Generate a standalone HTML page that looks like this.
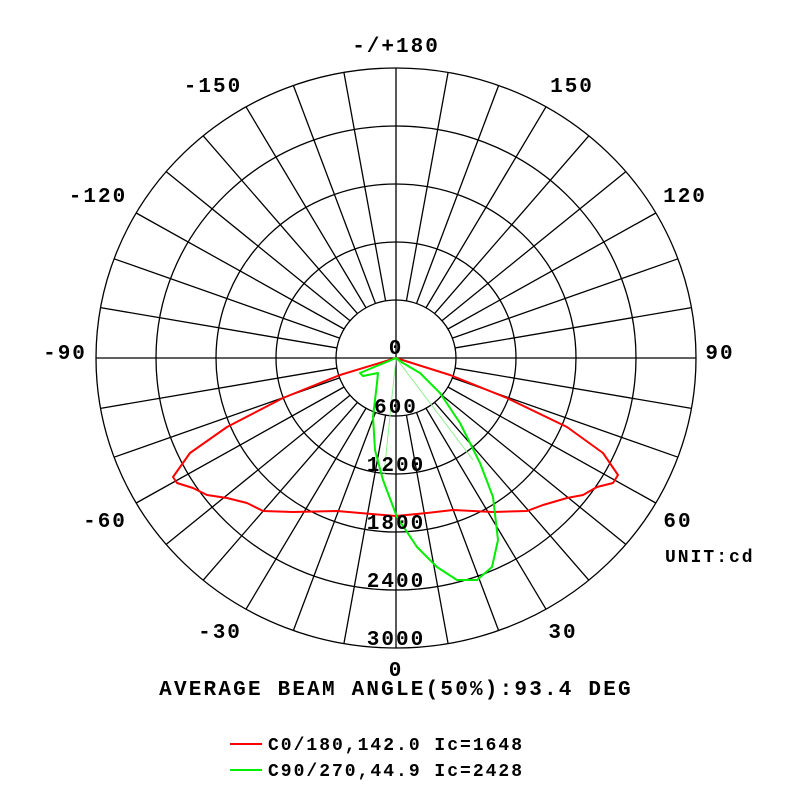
<!DOCTYPE html>
<html><head><style>body{margin:0;background:#fff}svg text{font-family:"Liberation Mono",monospace;font-weight:bold;fill:#000}</style></head><body>
<svg width="800" height="800" viewBox="0 0 800 800" xmlns="http://www.w3.org/2000/svg">
<rect width="800" height="800" fill="#fff"/>
<g fill="none" stroke="#000" stroke-width="1.3" transform="translate(396,358) scale(1,0.9667)">
<g vector-effect="non-scaling-stroke">
<ellipse cx="0" cy="0" rx="60" ry="60" vector-effect="non-scaling-stroke"/>
<ellipse cx="0" cy="0" rx="120" ry="120" vector-effect="non-scaling-stroke"/>
<ellipse cx="0" cy="0" rx="180" ry="180" vector-effect="non-scaling-stroke"/>
<ellipse cx="0" cy="0" rx="240" ry="240" vector-effect="non-scaling-stroke"/>
<ellipse cx="0" cy="0" rx="300" ry="300" vector-effect="non-scaling-stroke"/>
<line x1="-300" y1="0" x2="300" y2="0" vector-effect="non-scaling-stroke"/>
<line x1="0" y1="-300" x2="0" y2="300" vector-effect="non-scaling-stroke"/>
<line x1="0" y1="60" x2="0" y2="300" transform="rotate(10)" vector-effect="non-scaling-stroke"/>
<line x1="0" y1="60" x2="0" y2="300" transform="rotate(20)" vector-effect="non-scaling-stroke"/>
<line x1="0" y1="60" x2="0" y2="300" transform="rotate(30)" vector-effect="non-scaling-stroke"/>
<line x1="0" y1="60" x2="0" y2="300" transform="rotate(40)" vector-effect="non-scaling-stroke"/>
<line x1="0" y1="60" x2="0" y2="300" transform="rotate(50)" vector-effect="non-scaling-stroke"/>
<line x1="0" y1="60" x2="0" y2="300" transform="rotate(60)" vector-effect="non-scaling-stroke"/>
<line x1="0" y1="60" x2="0" y2="300" transform="rotate(70)" vector-effect="non-scaling-stroke"/>
<line x1="0" y1="60" x2="0" y2="300" transform="rotate(80)" vector-effect="non-scaling-stroke"/>
<line x1="0" y1="60" x2="0" y2="300" transform="rotate(100)" vector-effect="non-scaling-stroke"/>
<line x1="0" y1="60" x2="0" y2="300" transform="rotate(110)" vector-effect="non-scaling-stroke"/>
<line x1="0" y1="60" x2="0" y2="300" transform="rotate(120)" vector-effect="non-scaling-stroke"/>
<line x1="0" y1="60" x2="0" y2="300" transform="rotate(130)" vector-effect="non-scaling-stroke"/>
<line x1="0" y1="60" x2="0" y2="300" transform="rotate(140)" vector-effect="non-scaling-stroke"/>
<line x1="0" y1="60" x2="0" y2="300" transform="rotate(150)" vector-effect="non-scaling-stroke"/>
<line x1="0" y1="60" x2="0" y2="300" transform="rotate(160)" vector-effect="non-scaling-stroke"/>
<line x1="0" y1="60" x2="0" y2="300" transform="rotate(170)" vector-effect="non-scaling-stroke"/>
<line x1="0" y1="60" x2="0" y2="300" transform="rotate(190)" vector-effect="non-scaling-stroke"/>
<line x1="0" y1="60" x2="0" y2="300" transform="rotate(200)" vector-effect="non-scaling-stroke"/>
<line x1="0" y1="60" x2="0" y2="300" transform="rotate(210)" vector-effect="non-scaling-stroke"/>
<line x1="0" y1="60" x2="0" y2="300" transform="rotate(220)" vector-effect="non-scaling-stroke"/>
<line x1="0" y1="60" x2="0" y2="300" transform="rotate(230)" vector-effect="non-scaling-stroke"/>
<line x1="0" y1="60" x2="0" y2="300" transform="rotate(240)" vector-effect="non-scaling-stroke"/>
<line x1="0" y1="60" x2="0" y2="300" transform="rotate(250)" vector-effect="non-scaling-stroke"/>
<line x1="0" y1="60" x2="0" y2="300" transform="rotate(260)" vector-effect="non-scaling-stroke"/>
<line x1="0" y1="60" x2="0" y2="300" transform="rotate(280)" vector-effect="non-scaling-stroke"/>
<line x1="0" y1="60" x2="0" y2="300" transform="rotate(290)" vector-effect="non-scaling-stroke"/>
<line x1="0" y1="60" x2="0" y2="300" transform="rotate(300)" vector-effect="non-scaling-stroke"/>
<line x1="0" y1="60" x2="0" y2="300" transform="rotate(310)" vector-effect="non-scaling-stroke"/>
<line x1="0" y1="60" x2="0" y2="300" transform="rotate(320)" vector-effect="non-scaling-stroke"/>
<line x1="0" y1="60" x2="0" y2="300" transform="rotate(330)" vector-effect="non-scaling-stroke"/>
<line x1="0" y1="60" x2="0" y2="300" transform="rotate(340)" vector-effect="non-scaling-stroke"/>
<line x1="0" y1="60" x2="0" y2="300" transform="rotate(350)" vector-effect="non-scaling-stroke"/>
</g>
</g>
<g stroke="#90ee90" stroke-width="1"><line x1="396" y1="358" x2="384" y2="474"/><line x1="396" y1="358" x2="473" y2="460"/></g>
<path fill="none" stroke="#f00" stroke-width="2" stroke-linejoin="round" d="M396,358 L340,375 L283,398 L227,427 L190,453 L173,477 L177,483 L193,488 L207,495 L227,498 L247,503 L263,511 L293,512 L337,511 L360,513 L396,516 L427,513 L453,510 L493,512 L527,511 L543,505 L567,498 L583,495 L597,487 L613,483 L618,475 L603,453 L567,427 L507,398 L450,375 Z"/>
<path fill="none" stroke="#0e0" stroke-width="2" stroke-linejoin="round" d="M396,358 L360,373 L363,376 L378,373 L377,383 L373,417 L375,450 L383,480 L397,517 L417,547 L437,567 L457,580 L477,580 L492,567 L498,540 L493,497 L480,463 L460,423 L440,393 L420,373 L403,363 Z"/>
<g font-size="21" letter-spacing="2" text-anchor="middle">
<text x="396" y="52">-/+180</text>
<text x="572" y="92">150</text><text x="685" y="202">120</text><text x="720" y="359">90</text>
<text x="678" y="527">60</text><text x="563" y="638">30</text><text x="396" y="676">0</text>
<text x="220" y="638">-30</text><text x="105" y="527">-60</text><text x="65" y="359">-90</text>
<text x="98" y="202">-120</text><text x="213" y="92">-150</text>
<text x="396" y="354">0</text><text x="396" y="413">600</text><text x="396" y="471">1200</text>
<text x="396" y="529">1800</text><text x="396" y="587">2400</text><text x="396" y="645">3000</text>
<text x="396" y="695" letter-spacing="2.2">AVERAGE BEAM ANGLE(50%):93.4 DEG</text>
</g>
<text x="665" y="562" font-size="18" letter-spacing="2">UNIT:cd</text>
<line x1="230" y1="744" x2="262" y2="744" stroke="#f00" stroke-width="2"/>
<line x1="230" y1="770" x2="262" y2="770" stroke="#0e0" stroke-width="2"/>
<text x="268" y="750" font-size="18" letter-spacing="2">C0/180,142.0 Ic=1648</text>
<text x="268" y="776" font-size="18" letter-spacing="2">C90/270,44.9 Ic=2428</text>
</svg>
</body></html>
